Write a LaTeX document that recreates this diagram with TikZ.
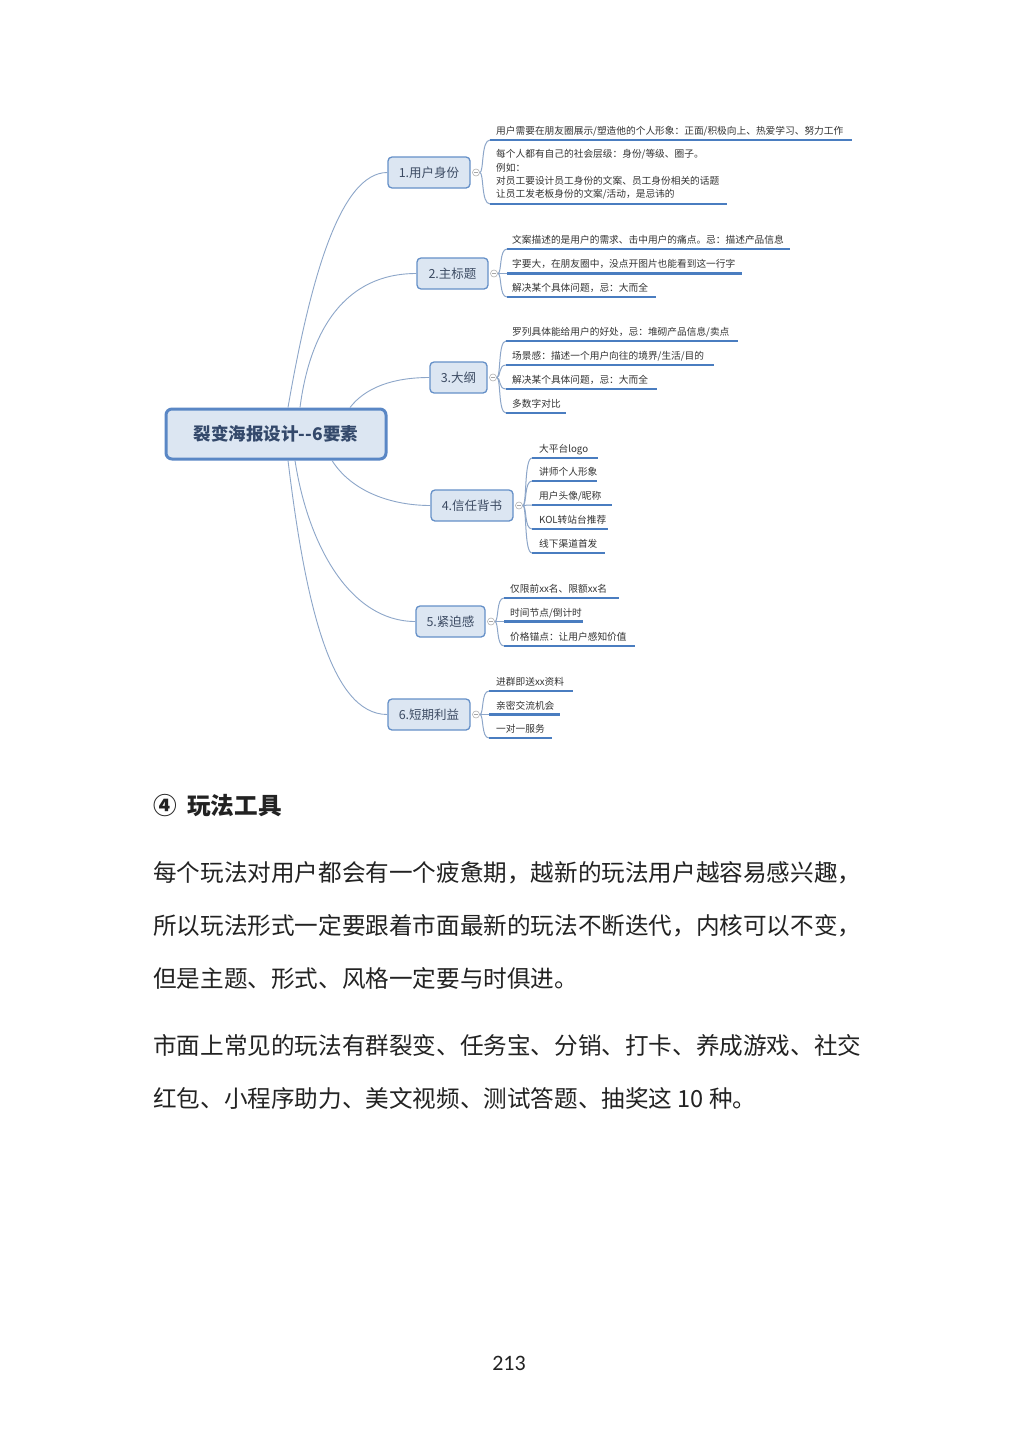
\documentclass[tikz,border=0pt]{standalone}
\usepackage{fontspec}
\setmainfont{Noto Sans CJK SC}
\newfontfamily\pnfont{Carlito}
\definecolor{boxfill}{HTML}{DCE6F2}
\definecolor{rootborder}{HTML}{5A87C5}
\definecolor{brborder}{HTML}{6590C8}
\definecolor{roottext}{HTML}{34496B}
\definecolor{brtext}{HTML}{3C4B63}
\definecolor{leaftext}{HTML}{333333}
\definecolor{ulcol}{HTML}{4A7DC0}
\definecolor{conncol}{HTML}{8DA6C9}
\definecolor{bodytext}{HTML}{222222}
\begin{document}
\begin{tikzpicture}[x=1pt,y=-1pt,
  rootbox/.style={draw=rootborder, line width=3pt, fill=boxfill, rounded corners=6pt,
    minimum width=220pt, minimum height=50pt, inner sep=0pt, text=roottext,
    font=\fontsize{17.5}{20}\selectfont\bfseries},
  brbox/.style={draw=brborder, line width=1.3pt, fill=boxfill, rounded corners=4pt,
    minimum height=31pt, inner sep=0pt, text=brtext, font=\fontsize{12.5}{14}\selectfont},
  leaf/.style={anchor=base west, inner sep=0pt, text=leaftext, font=\fontsize{9.7}{13.3}\selectfont},
  uline/.style={draw=ulcol, line width=2.2pt},
  conn/.style={draw=conncol, line width=0.9pt},
  lconn/.style={draw=conncol, line width=1pt},
  marker/.style={circle, draw=gray!60, fill=white, line width=0.6pt, minimum size=7pt, inner sep=0pt,
    path picture={\draw[gray!70, line width=0.5pt] ([xshift=1.6pt]path picture bounding box.west) -- ([xshift=-1.6pt]path picture bounding box.east);}},
  body/.style={anchor=base west, inner sep=0pt, text=bodytext, font=\fontsize{23.6}{28}\selectfont}
]
\useasboundingbox[fill=white] (0,0) rectangle (1019,1440);

% ---------- root and branches ----------
\node[rootbox] (root) at (276,434) {裂变海报设计-{}-6要素};

\node[brbox, minimum width=82pt] (b1) at (429,172.5) {1.用户身份};
\node[brbox, minimum width=71pt] (b2) at (452.5,273.5) {2.主标题};
\node[brbox, minimum width=57pt] (b3) at (458.5,377.5) {3.大纲};
\node[brbox, minimum width=82pt] (b4) at (472,505.5) {4.信任背书};
\node[brbox, minimum width=69pt] (b5) at (450.5,621.5) {5.紧迫感};
\node[brbox, minimum width=82pt] (b6) at (429,714.5) {6.短期利益};

\draw[conn] ([xshift=12pt]root.north) .. controls (310,280) and (340,172.5) .. (b1.west);
\draw[conn] ([xshift=24pt]root.north) .. controls (310,330) and (345,273.5) .. (b2.west);
\draw[conn] ([xshift=74pt]root.north) .. controls (365,388) and (392,377.5) .. (b3.west);
\draw[conn] ([xshift=56pt]root.south) .. controls (352,492) and (392,505.5) .. (b4.west);
\draw[conn] ([xshift=19pt]root.south) .. controls (308,545) and (350,621.5) .. (b5.west);
\draw[conn] ([xshift=12pt]root.south) .. controls (305,600) and (330,714.5) .. (b6.west);

% markers
\node[marker] (m1) at (476,172.5) {};
\node[marker] (m2) at (494,273.5) {};
\node[marker] (m3) at (493,377.5) {};
\node[marker] (m4) at (519,505.5) {};
\node[marker] (m5) at (491,621.5) {};
\node[marker] (m6) at (476,714.5) {};

% ---------- branch 1 ----------
\node[leaf] (l1a) at (496,134.7) {用户需要在朋友圈展示/塑造他的个人形象：正面/积极向上、热爱学习、努力工作};
\node[leaf, anchor=north west, align=left] (l1b) at (496,149.5) {每个人都有自己的社会层级：身份/等级、圈子。\\例如：\\对员工要设计员工身份的文案、员工身份相关的话题\\让员工发老板身份的文案/活动，是忌讳的};
\coordinate (u1a) at (490,140); \coordinate (e1a) at (852,140);
\coordinate (u1b) at (490,204); \coordinate (e1b) at (727,204);
\draw[lconn] (m1.east) .. controls (484,172.5) and (481,140) .. (u1a);
\draw[lconn] (m1.east) .. controls (484,172.5) and (481,204) .. (u1b);
\draw[uline] (u1a) -- (e1a);
\draw[uline] (u1b) -- (e1b);

% ---------- branch 2 ----------
\node[leaf] (l2a) at (512,243.7) {文案描述的是用户的需求、击中用户的痛点。忌：描述产品信息};
\node[leaf] (l2b) at (512,267.7) {字要大，在朋友圈中，没点开图片也能看到这一行字};
\node[leaf] (l2c) at (512,291.7) {解决某个具体问题，忌：大而全};
\coordinate (u2a) at (507,249); \coordinate (e2a) at (790,249);
\coordinate (u2b) at (507,273.5); \coordinate (e2b) at (742,273.5);
\coordinate (u2c) at (507,297); \coordinate (e2c) at (656,297);
\draw[lconn] (m2.east) .. controls (502,273.5) and (499,249) .. (u2a);
\draw[lconn] (m2.east) -- (u2b);
\draw[lconn] (m2.east) .. controls (502,273.5) and (499,297) .. (u2c);
\draw[uline] (u2a) -- (e2a);
\draw[uline] (u2b) -- (e2b);
\draw[uline] (u2c) -- (e2c);

% ---------- branch 3 ----------
\node[leaf] (l3a) at (512,335.7) {罗列具体能给用户的好处，忌：堆砌产品信息/卖点};
\node[leaf] (l3b) at (512,359.7) {场景感：描述一个用户向往的境界/生活/目的};
\node[leaf] (l3c) at (512,383.7) {解决某个具体问题，忌：大而全};
\node[leaf] (l3d) at (512,407.7) {多数字对比};
\coordinate (u3a) at (506,341); \coordinate (e3a) at (738,341);
\coordinate (u3b) at (506,365); \coordinate (e3b) at (714,365);
\coordinate (u3c) at (506,389); \coordinate (e3c) at (657,389);
\coordinate (u3d) at (506,413); \coordinate (e3d) at (566,413);
\draw[lconn] (m3.east) .. controls (501,377.5) and (498,341) .. (u3a);
\draw[lconn] (m3.east) .. controls (501,377.5) and (498,365) .. (u3b);
\draw[lconn] (m3.east) .. controls (501,377.5) and (498,389) .. (u3c);
\draw[lconn] (m3.east) .. controls (501,377.5) and (498,413) .. (u3d);
\draw[uline] (u3a) -- (e3a);
\draw[uline] (u3b) -- (e3b);
\draw[uline] (u3c) -- (e3c);
\draw[uline] (u3d) -- (e3d);

% ---------- branch 4 ----------
\node[leaf] (l4a) at (539,452.7) {大平台logo};
\node[leaf] (l4b) at (539,475.7) {讲师个人形象};
\node[leaf] (l4c) at (539,499.7) {用户头像/昵称};
\node[leaf] (l4d) at (539,523.7) {KOL转站台推荐};
\node[leaf] (l4e) at (539,547.7) {线下渠道首发};
\coordinate (u4a) at (532,458); \coordinate (e4a) at (598,458);
\coordinate (u4b) at (532,481); \coordinate (e4b) at (597,481);
\coordinate (u4c) at (532,505); \coordinate (e4c) at (612,505);
\coordinate (u4d) at (532,529); \coordinate (e4d) at (608,529);
\coordinate (u4e) at (532,553); \coordinate (e4e) at (605,553);
\draw[lconn] (m4.east) .. controls (527,505.5) and (524,458) .. (u4a);
\draw[lconn] (m4.east) .. controls (527,505.5) and (524,481) .. (u4b);
\draw[lconn] (m4.east) .. controls (527,505.5) and (524,505) .. (u4c);
\draw[lconn] (m4.east) .. controls (527,505.5) and (524,529) .. (u4d);
\draw[lconn] (m4.east) .. controls (527,505.5) and (524,553) .. (u4e);
\draw[uline] (u4a) -- (e4a);
\draw[uline] (u4b) -- (e4b);
\draw[uline] (u4c) -- (e4c);
\draw[uline] (u4d) -- (e4d);
\draw[uline] (u4e) -- (e4e);

% ---------- branch 5 ----------
\node[leaf] (l5a) at (510,592.7) {仅限前xx名、限额xx名};
\node[leaf] (l5b) at (510,616.7) {时间节点/倒计时};
\node[leaf] (l5c) at (510,640.7) {价格锚点：让用户感知价值};
\coordinate (u5a) at (504,598); \coordinate (e5a) at (619,598);
\coordinate (u5b) at (504,621.5); \coordinate (e5b) at (583,621.5);
\coordinate (u5c) at (504,646); \coordinate (e5c) at (635,646);
\draw[lconn] (m5.east) .. controls (499,621.5) and (496,598) .. (u5a);
\draw[lconn] (m5.east) -- (u5b);
\draw[lconn] (m5.east) .. controls (499,621.5) and (496,646) .. (u5c);
\draw[uline] (u5a) -- (e5a);
\draw[uline] (u5b) -- (e5b);
\draw[uline] (u5c) -- (e5c);

% ---------- branch 6 ----------
\node[leaf] (l6a) at (496,685.7) {进群即送xx资料};
\node[leaf] (l6b) at (496,709.7) {亲密交流机会};
\node[leaf] (l6c) at (496,732.7) {一对一服务};
\coordinate (u6a) at (489,691); \coordinate (e6a) at (573,691);
\coordinate (u6b) at (489,714.5); \coordinate (e6b) at (560,714.5);
\coordinate (u6c) at (489,738); \coordinate (e6c) at (552,738);
\draw[lconn] (m6.east) .. controls (484,714.5) and (481,691) .. (u6a);
\draw[lconn] (m6.east) -- (u6b);
\draw[lconn] (m6.east) .. controls (484,714.5) and (481,738) .. (u6c);
\draw[uline] (u6a) -- (e6a);
\draw[uline] (u6b) -- (e6b);
\draw[uline] (u6c) -- (e6c);

% ---------- body text ----------
\node[body, font=\fontsize{23.6}{28}\selectfont\bfseries] (h) at (153,814) {④\hspace{0.45em}玩法工具};
\node[body] (p1) at (153,881) {每个玩法对用户都会有一个疲惫期，越新的玩法用户越容易感兴趣，};
\node[body] (p2) at (153,934) {所以玩法形式一定要跟着市面最新的玩法不断迭代，内核可以不变，};
\node[body] (p3) at (153,987) {但是主题、形式、风格一定要与时俱进。};
\node[body] (p4) at (153,1054) {市面上常见的玩法有群裂变、任务宝、分销、打卡、养成游戏、社交};
\node[body] (p5) at (153,1107) {红包、小程序助力、美文视频、测试答题、抽奖这 10 种。};

\node[anchor=base, inner sep=0pt, text=bodytext, font=\pnfont\fontsize{22}{24}\selectfont] (pn) at (509,1370) {213};
\end{tikzpicture}
\end{document}
